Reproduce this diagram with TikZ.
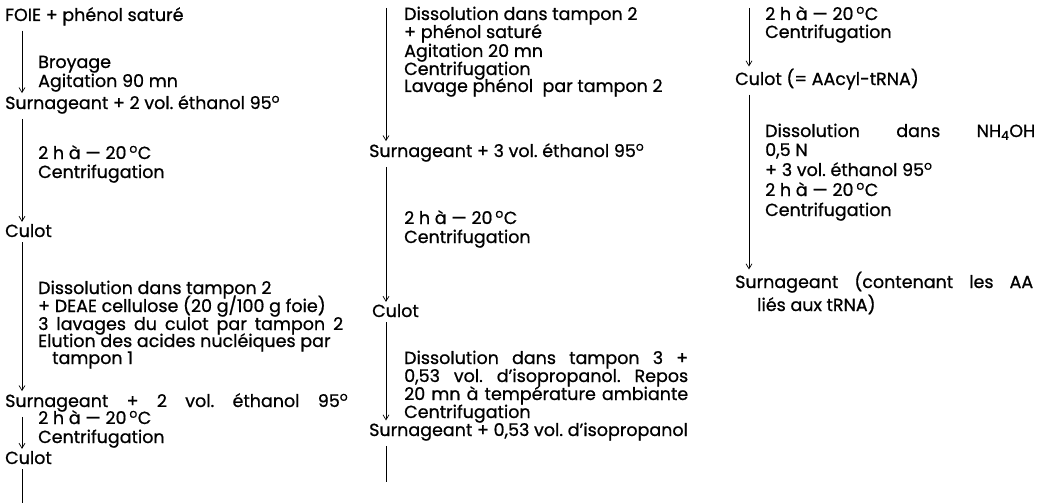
\documentclass[tikz,border=0pt]{standalone}
\usepackage{fontspec}
\setmainfont{Poppins}[FakeBold=0.8]
\usetikzlibrary{arrows.meta}

\newcommand{\dgr}{\textsuperscript{o}}
\newcommand{\jline}[2]{\makebox[#1][s]{#2}}
\frenchspacing

\tikzset{
  txt/.style={anchor=base west, inner sep=0pt, font=\fontsize{17.5}{18}\selectfont},
  flow/.style={-{Straight Barb[length=5pt,width=6pt]}, line width=0.7pt},
}

\begin{document}
\begin{tikzpicture}[x=1pt, y=-1pt]
	\useasboundingbox (0,0) rectangle (1044,503);
	% column 1
	\coordinate (x1) at (22,0);
	\node[txt] (foie) at (5,21) {FOIE + phénol saturé};
	\node[txt] (broy) at (38,68) {Broyage};
	\node[txt] (agit1) at (38,87) {Agitation 90 mn};
	\node[txt] (surn1) at (5,109) {Surnageant + 2 vol. éthanol 95\dgr};
	\node[txt] (froid1) at (38,159) {2 h à — 20\,\dgr C};
	\node[txt] (cent1) at (38,178) {Centrifugation};
	\node[txt] (culot1) at (5,237) {Culot};
	\node[txt] (dis1) at (38,294) {Dissolution dans tampon 2};
	\node[txt] (deae) at (38,312) {+ DEAE cellulose (20 g/100 g foie)};
	\node[txt] (lav) at (38,330) {\jline{305pt}{3 lavages du culot par tampon 2}};
	\node[txt] (elu) at (38,347) {Elution des acides nucléiques par};
	\node[txt] (tamp1) at (52,364) {tampon 1};
	\node[txt] (surn2) at (5,407) {\jline{343pt}{Surnageant + 2 vol. éthanol 95\dgr}};
	\node[txt] (froid2) at (38,424) {2 h à — 20\,\dgr C};
	\node[txt] (cent2) at (38,443) {Centrifugation};
	\node[txt] (culot2) at (5,464) {Culot};
	\coordinate (bot1) at (22,503);
	\foreach \a/\b in {foie/surn1, surn1/culot1, culot1/surn2, surn2/culot2}
		\draw[flow, shorten <=5pt, shorten >=2pt] (x1 |- \a.south) -- (x1 |- \b.north);
	\draw[line width=0.7pt, shorten <=5pt] (x1 |- culot2.south) -- (bot1);
	% column 2
	\coordinate (x2) at (386,0);
	\coordinate (top2) at (386,8);
	\node[txt] (dis2) at (404,20) {Dissolution dans tampon 2};
	\node[txt] (phen) at (404,38) {+ phénol saturé};
	\node[txt] (agit2) at (404,57) {Agitation 20 mn};
	\node[txt] (cent3) at (404,75) {Centrifugation};
	\node[txt] (lavph) at (404,92) {Lavage phénol\ \ par tampon 2};
	\node[txt] (surn3) at (369,157) {Surnageant + 3 vol. éthanol 95\dgr};
	\node[txt] (froid3) at (404,224) {2 h à — 20\,\dgr C};
	\node[txt] (cent4) at (404,243) {Centrifugation};
	\node[txt] (culot3) at (372,317) {Culot};
	\node[txt] (dis3) at (404,364) {\jline{284pt}{Dissolution dans tampon 3 +}};
	\node[txt] (isop) at (404,382) {\jline{284pt}{0,53 vol. d'isopropanol. Repos}};
	\node[txt] (repos) at (404,400) {\jline{284pt}{20 mn à température ambiante}};
	\node[txt] (cent5) at (404,418) {Centrifugation};
	\node[txt] (surn4) at (369,436) {Surnageant + 0,53 vol. d'isopropanol};
	\coordinate (bot2) at (386,482);
	\draw[flow, shorten >=2pt] (top2) -- (x2 |- surn3.north);
	\foreach \a/\b in {surn3/culot3, culot3/surn4}
		\draw[flow, shorten <=5pt, shorten >=2pt] (x2 |- \a.south) -- (x2 |- \b.north);
	\draw[line width=0.7pt, shorten <=5pt] (x2 |- surn4.south) -- (bot2);
	% column 3
	\coordinate (x3) at (749,0);
	\coordinate (top3) at (749,8);
	\node[txt] (froid4) at (765,20) {2 h à — 20\,\dgr C};
	\node[txt] (cent6) at (765,38) {Centrifugation};
	\node[txt] (culot4) at (735,85) {Culot (= AAcyl-tRNA)};
	\node[txt] (dis4) at (765,137) {\jline{270pt}{Dissolution dans NH\textsubscript{4}OH}};
	\node[txt] (normal) at (765,156) {0,5 N};
	\node[txt] (eth) at (765,176) {+ 3 vol. éthanol 95\dgr};
	\node[txt] (froid5) at (765,196) {2 h à — 20\,\dgr C};
	\node[txt] (cent7) at (765,216) {Centrifugation};
	\node[txt] (surn5) at (735,288) {\jline{298pt}{Surnageant (contenant les AA}};
	\node[txt] (lies) at (757,311) {liés aux tRNA)};
	\draw[flow, shorten >=2pt] (top3) -- (x3 |- culot4.north);
	\draw[flow, shorten <=5pt, shorten >=2pt] (x3 |- culot4.south) -- (x3 |- surn5.north);
\end{tikzpicture}
\end{document}
